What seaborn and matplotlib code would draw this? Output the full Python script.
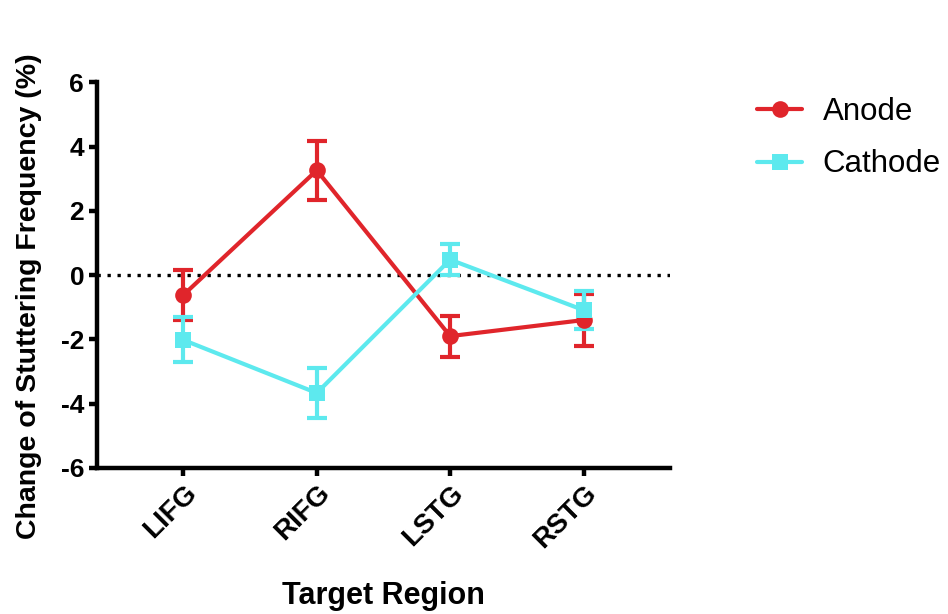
import matplotlib
matplotlib.use("Agg")
import matplotlib.pyplot as plt
import seaborn as sns
import pandas as pd
import numpy as np

regions = ["LIFG", "RIFG", "LSTG", "RSTG"]
anode_mean = [-0.62, 3.26, -1.90, -1.40]
anode_sem = [0.77, 0.92, 0.64, 0.82]
cathode_mean = [-2.02, -3.67, 0.48, -1.09]
cathode_sem = [0.70, 0.78, 0.48, 0.60]
yticks = [-6, -4, -2, 0, 2, 4, 6]

sns.set_style("ticks")
plt.rcParams['font.family'] = ['Liberation Sans', 'DejaVu Sans']
for k in ["text.color", "axes.labelcolor", "xtick.color", "ytick.color", "axes.edgecolor"]:
    plt.rcParams[k] = "black"

red = "#E0252B"
cyan = "#5DE9EE"

df = pd.DataFrame({
    "pos": list(range(len(regions))) * 2,
    "Region": regions * 2,
    "mean": anode_mean + cathode_mean,
    "sem": anode_sem + cathode_sem,
    "Electrode": ["Anode"] * 4 + ["Cathode"] * 4,
})

fig = plt.figure(figsize=(9.48, 6.14), dpi=100)
ax = fig.add_axes([0.102, 0.238, 0.605, 0.628])

ax.axhline(0, color="black", linestyle=(0, (1, 2)), linewidth=2.4, zorder=1)

sns.lineplot(data=df, x="pos", y="mean", hue="Electrode", style="Electrode",
             palette={"Anode": red, "Cathode": cyan},
             markers={"Anode": "o", "Cathode": "s"}, dashes=False,
             markersize=12, linewidth=3, markeredgewidth=0, ax=ax, zorder=3,
             legend=True)

for name, color in [("Anode", red), ("Cathode", cyan)]:
    sub = df[df["Electrode"] == name]
    ax.errorbar(sub["pos"], sub["mean"], yerr=sub["sem"], fmt="none",
                ecolor=color, elinewidth=3, capsize=7, capthick=3, zorder=2)

ax.set_xlim(-0.65, 3.65)
ax.set_ylim(-6, 6)
ax.set_yticks(yticks)
ax.set_yticklabels([str(t) for t in yticks], fontsize=19, fontweight="bold")
ax.set_xticks(range(len(regions)))
ax.set_xticklabels(regions, rotation=45, ha="right", rotation_mode="anchor",
                   fontsize=20, fontweight="bold")
ax.set_xlabel("Target Region", fontsize=22, fontweight="bold", labelpad=20)
ax.set_ylabel("Change of Stuttering Frequency (%)", fontsize=20.5, fontweight="bold")
ax.yaxis.set_label_coords(-0.095, 0.445)

for s in ["top", "right"]:
    ax.spines[s].set_visible(False)
for s in ["left", "bottom"]:
    ax.spines[s].set_linewidth(3.2)
ax.tick_params(axis="both", width=3.2, length=6, direction="out", pad=3)

handles, labels = ax.get_legend_handles_labels()
ax.legend_.remove()
fig.legend(handles, labels, loc="upper left", bbox_to_anchor=(757 / 948, 1 - 97 / 614),
           bbox_transform=fig.transFigure, frameon=False, borderpad=0, borderaxespad=0,
           fontsize=22.5, handlelength=1.45, handletextpad=0.65, labelspacing=0.72)

fig.savefig("out.png", dpi=100)
